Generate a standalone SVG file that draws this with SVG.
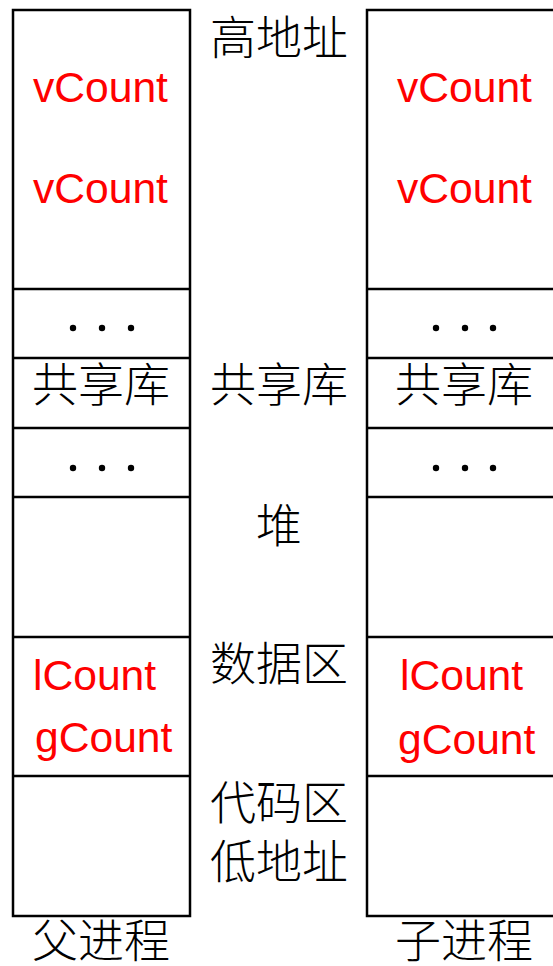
<svg xmlns="http://www.w3.org/2000/svg" width="553" height="966" viewBox="0 0 553 966">
<style>
.box{fill:#fff;stroke:#000;stroke-width:2.5}
.ln{stroke:#000;stroke-width:2.5}
.var{font-family:"Liberation Sans",Arial,sans-serif;font-size:42.6px;fill:#ff0000}
.cjk{font-family:"Noto Sans CJK SC","Noto Sans CJK JP",sans-serif;font-size:46px;fill:#000;text-anchor:middle;font-weight:300}
.dot{fill:#000}
</style>
<rect width="553" height="966" fill="#fff"/>
<g id="parent">
<rect class="box" x="13" y="10" width="177" height="906"/>
<line class="ln" x1="13" y1="289" x2="190" y2="289"/>
<line class="ln" x1="13" y1="358" x2="190" y2="358"/>
<line class="ln" x1="13" y1="428" x2="190" y2="428"/>
<line class="ln" x1="13" y1="497" x2="190" y2="497"/>
<line class="ln" x1="13" y1="637" x2="190" y2="637"/>
<line class="ln" x1="13" y1="776" x2="190" y2="776"/>
<text class="var" x="33" y="102">vCount</text>
<text class="var" x="33" y="203">vCount</text>
<circle class="dot" cx="73" cy="328" r="3.2"/><circle class="dot" cx="102" cy="328" r="3.2"/><circle class="dot" cx="131" cy="328" r="3.2"/>
<text class="cjk" x="101" y="401">共享库</text>
<circle class="dot" cx="73" cy="468" r="3.2"/><circle class="dot" cx="102" cy="468" r="3.2"/><circle class="dot" cx="131" cy="468" r="3.2"/>
<text class="var" x="33" y="690">lCount</text>
<text class="var" x="35" y="752">gCount</text>
<text class="cjk" x="101" y="957">父进程</text>
</g>
<g id="child">
<rect class="box" x="367" y="10" width="200" height="906"/>
<line class="ln" x1="367" y1="289" x2="553" y2="289"/>
<line class="ln" x1="367" y1="358" x2="553" y2="358"/>
<line class="ln" x1="367" y1="428" x2="553" y2="428"/>
<line class="ln" x1="367" y1="497" x2="553" y2="497"/>
<line class="ln" x1="367" y1="637" x2="553" y2="637"/>
<line class="ln" x1="367" y1="776" x2="553" y2="776"/>
<text class="var" x="397" y="102">vCount</text>
<text class="var" x="397" y="203">vCount</text>
<circle class="dot" cx="436" cy="328" r="3.2"/><circle class="dot" cx="465" cy="328" r="3.2"/><circle class="dot" cx="493" cy="328" r="3.2"/>
<text class="cjk" x="464" y="401">共享库</text>
<circle class="dot" cx="436" cy="468" r="3.2"/><circle class="dot" cx="465" cy="468" r="3.2"/><circle class="dot" cx="493" cy="468" r="3.2"/>
<text class="var" x="400" y="690">lCount</text>
<text class="var" x="398" y="754">gCount</text>
<text class="cjk" x="464" y="957">子进程</text>
</g>
<g id="labels">
<text class="cjk" x="279" y="54">高地址</text>
<text class="cjk" x="279" y="401">共享库</text>
<text class="cjk" x="279" y="542">堆</text>
<text class="cjk" x="279" y="680">数据区</text>
<text class="cjk" x="279" y="819">代码区</text>
<text class="cjk" x="279" y="878">低地址</text>
</g>
</svg>
